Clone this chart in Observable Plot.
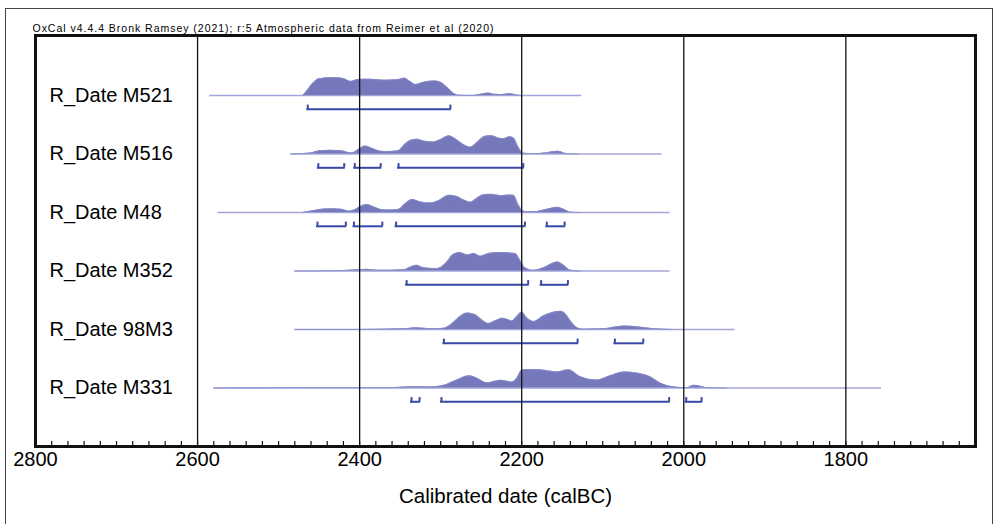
<!DOCTYPE html>
<html>
<head>
<meta charset="utf-8">
<script src="https://cdn.jsdelivr.net/npm/d3@7"></script>
<script src="https://cdn.jsdelivr.net/npm/@observablehq/plot@0.6"></script>
<style>
  html, body { margin: 0; padding: 0; background: #fff; overflow: hidden; }
  #wrap { position: relative; width: 999px; height: 524px; }
  #border { position: absolute; left: 5px; top: 8px; width: 988px; height: 600px; border: 1px solid #444; box-sizing: border-box; pointer-events: none; }
  #chart { position: absolute; left: 0; top: 0; }
</style>
</head>
<body>
<div id="wrap"><div id="border"></div><div id="chart"></div></div>
<script>
// ---- data ----
const caption = "OxCal v4.4.4 Bronk Ramsey (2021); r:5 Atmospheric data from Reimer et al (2020)";
const axisTitle = "Calibrated date (calBC)";
const majorTicks = [2800, 2600, 2400, 2200, 2000, 1800];
const minorTicks = d3.range(1660, 2800, 20);

const names = ["R_Date M521", "R_Date M516", "R_Date M48", "R_Date M352", "R_Date 98M3", "R_Date M331"];

// extent of the thin baseline of each distribution (calBC)
const spans = [[2585, 2126], [2485, 2027], [2575, 2017], [2480, 2017], [2480, 1937], [2580, 1756]];

// probability density (relative to max) by year calBC
const densM521 = [[2470,0],[2465,0.26],[2458,0.65],[2450,0.91],[2432,0.97],[2420,0.92],[2411,0.76],[2405,0.84],[2399,0.88],[2387,0.88],[2370,0.83],[2350,0.88],[2345,0.94],[2339,0.80],[2331,0.60],[2321,0.72],[2308,0.79],[2300,0.72],[2292,0.44],[2284,0.12],[2278,0.02],[2263,0],[2247,0.10],[2241,0.14],[2235,0.07],[2224,0.05],[2214,0.09],[2208,0.04],[2202,0]];
const densM516 = [[2485,0],[2460,0.06],[2450,0.17],[2436,0.20],[2422,0.17],[2411,0.06],[2407,0.09],[2401,0.26],[2393,0.43],[2385,0.31],[2374,0.15],[2366,0.13],[2352,0.17],[2346,0.44],[2337,0.74],[2329,0.80],[2321,0.70],[2309,0.65],[2300,0.78],[2290,0.98],[2282,0.83],[2272,0.52],[2263,0.37],[2255,0.63],[2245,0.96],[2237,0.98],[2228,0.85],[2222,0.83],[2215,0.93],[2210,0.87],[2204,0.37],[2198,0.04],[2185,0.02],[2169,0.07],[2156,0.15],[2144,0.02],[2130,0]];
const densM48 = [[2470,0],[2456,0.11],[2444,0.19],[2432,0.20],[2422,0.17],[2413,0.07],[2407,0.13],[2399,0.33],[2391,0.43],[2383,0.31],[2372,0.15],[2362,0.13],[2352,0.17],[2343,0.50],[2335,0.70],[2325,0.57],[2313,0.52],[2302,0.65],[2290,0.93],[2280,0.87],[2272,0.69],[2263,0.56],[2255,0.78],[2247,0.96],[2237,0.98],[2226,0.91],[2216,0.94],[2210,0.93],[2204,0.41],[2198,0.07],[2185,0.04],[2169,0.17],[2156,0.28],[2148,0.17],[2140,0.02],[2128,0]];
const densM352 = [[2480,0],[2424,0.02],[2403,0.07],[2391,0.09],[2378,0.04],[2346,0.07],[2337,0.22],[2330,0.31],[2321,0.18],[2304,0.13],[2294,0.40],[2284,0.91],[2276,1.00],[2267,0.87],[2259,0.95],[2251,0.80],[2241,0.95],[2230,1.00],[2218,0.98],[2208,0.95],[2202,0.58],[2196,0.18],[2185,0.04],[2173,0.18],[2156,0.49],[2148,0.31],[2140,0.04],[2128,0]];
const dens98M3 = [[2480,0],[2403,0],[2346,0.04],[2329,0.09],[2313,0.04],[2296,0.07],[2288,0.24],[2280,0.56],[2267,0.89],[2257,0.80],[2249,0.52],[2241,0.33],[2232,0.48],[2224,0.61],[2216,0.52],[2212,0.46],[2206,0.70],[2200,0.94],[2193,0.61],[2185,0.43],[2173,0.74],[2161,0.93],[2152,0.98],[2146,0.85],[2140,0.48],[2132,0.11],[2124,0.02],[2099,0.04],[2074,0.19],[2058,0.15],[2037,0.04],[2013,0]];
const densM331 = [[2580,0],[2444,0.02],[2362,0.02],[2329,0.08],[2313,0.06],[2296,0.15],[2280,0.43],[2265,0.66],[2255,0.53],[2243,0.28],[2226,0.42],[2212,0.32],[2206,0.53],[2200,0.96],[2193,1.00],[2177,0.98],[2156,0.87],[2142,0.98],[2128,0.62],[2107,0.43],[2091,0.66],[2074,0.87],[2058,0.81],[2041,0.60],[2029,0.27],[2017,0.09],[2000,0.02],[1996,0.02],[1988,0.15],[1982,0.12],[1972,0.02],[1947,0]];
const densities = [densM521, densM516, densM48, densM352, dens98M3, densM331];

// 95.4% ranges (calBC)
const rangesM521 = [[2464, 2288]];
const rangesM516 = [[2451, 2419], [2406, 2374], [2352, 2198]];
const rangesM48 = [[2452, 2417], [2407, 2372], [2355, 2196], [2169, 2147]];
const rangesM352 = [[2342, 2192], [2176, 2143]];
const ranges98M3 = [[2296, 2131], [2085, 2050]];
const rangesM331 = [[2336, 2326], [2299, 2018], [1997, 1978]];
const ranges = [rangesM521, rangesM516, rangesM48, rangesM352, ranges98M3, rangesM331];

// ---- build tables ----
const rowPx = 58.5;
const K = 18.5 / rowPx;     // peak height
const B = 13.8 / rowPx;     // bracket offset
const T = 4.2 / rowPx;      // bracket tick length

const rows = names.map((name, row) => ({name, row, x1: spans[row][0], x2: spans[row][1]}));
const densRows = densities.flatMap((d, row) => d.map(([year, h]) => ({name: names[row], row, year, h})));
const rangeRows = ranges.flatMap((r, row) => r.map(([from, to]) => ({row, from, to})));
const rangeEnds = rangeRows.flatMap(r => [{row: r.row, x: r.from}, {row: r.row, x: r.to}]);

const fillColor = "#7579bb";
const baseColor = "#a2a5d9";
const bracketColor = "#3848a6";

const chart = Plot.plot({
  width: 999,
  height: 524,
  marginLeft: 35,
  marginRight: 24,
  marginTop: 35,
  marginBottom: 78,
  x: {domain: [2800, 1640]},
  y: {domain: [-1.0256, 6], reverse: true, axis: null},
  style: {fontFamily: "'Liberation Sans', Arial, Helvetica, sans-serif", fontSize: "20px", background: "transparent", color: "#000"},
  marks: [
    Plot.ruleY(rows, {y: "row", x1: "x1", x2: "x2", stroke: baseColor, strokeWidth: 1.4}),
    Plot.areaY(densRows, {x: "year", y1: "row", y2: d => d.row - d.h * K, z: "name", fill: fillColor, curve: "monotone-x"}),
    Plot.lineY(densRows, {x: "year", y: d => d.row - d.h * K, z: "name", stroke: "#8a8ecb", strokeWidth: 0.8, curve: "monotone-x"}),
    Plot.ruleY(rangeRows, {y: d => d.row + B, x1: "from", x2: "to", stroke: bracketColor, strokeWidth: 2, strokeLinecap: "square"}),
    Plot.ruleX(rangeEnds, {x: "x", y1: d => d.row + B, y2: d => d.row + B - T, stroke: bracketColor, strokeWidth: 2}),
    Plot.ruleX(minorTicks, {x: d => d, y1: 6, y2: 6 - 5 / rowPx, stroke: "#111", strokeWidth: 1.2}),
    Plot.ruleX(majorTicks.filter(t => t < 2800), {x: d => d, stroke: "#111", strokeWidth: 1.3}),
    Plot.frame({stroke: "#111", strokeWidth: 3}),
    Plot.axisX({ticks: majorTicks, tickSize: 0, tickPadding: 5, tickFormat: d => String(d), fontSize: 20, label: null}),
    Plot.text(rows, {y: "row", text: "name", frameAnchor: "left", dx: 14, textAnchor: "start", fontSize: 20}),
    Plot.text([caption], {text: d => d, frameAnchor: "top-left", dx: -3, dy: -6.6, lineAnchor: "middle", textAnchor: "start", fontSize: 10.5, className: "oxcal-caption"}),
    Plot.text([axisTitle], {text: d => d, frameAnchor: "bottom", dy: 56.6, fontSize: 20.5})
  ]
});
document.getElementById("chart").appendChild(chart);
// stretch the caption to the reference's width
chart.querySelectorAll(".oxcal-caption text").forEach(t => {
  t.setAttribute("textLength", "461");
  t.setAttribute("lengthAdjust", "spacing");
});
</script>
</body>
</html>
